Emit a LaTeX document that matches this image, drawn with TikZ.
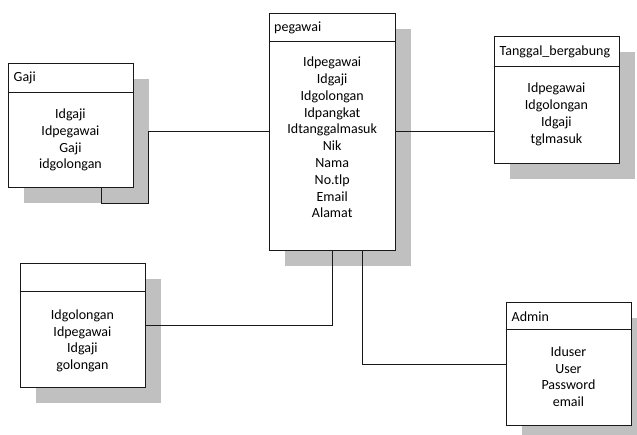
\documentclass[tikz,border=0pt]{standalone}
\usepackage{fontspec}
\setmainfont{Carlito}
\usetikzlibrary{calc,shadows}
\definecolor{shadowgray}{RGB}{192,192,192}
\definecolor{edge}{RGB}{25,25,25}
\tikzset{
  entity/.style={draw=edge, line width=0.9pt, fill=white, rectangle,
    inner sep=0pt, anchor=north west, minimum width=125pt,
    drop shadow={shadow xshift=16pt, shadow yshift=-16pt,
      fill=shadowgray, opacity=1}},
  title/.style={anchor=west, inner sep=0pt, font=\fontsize{14}{16.8}\selectfont},
  fields/.style={align=center, inner sep=0pt, font=\fontsize{14}{16.8}\selectfont},
  link/.style={draw=edge, line width=0.9pt},
}
\begin{document}
\begin{tikzpicture}[x=1pt, y=1pt]
\useasboundingbox (0,0) rectangle (637,-434);

% --- entity boxes ---
\node[entity, minimum height=124pt] (gaji) at (7.5,-62.5) {};
\node[entity, minimum width=125.5pt, minimum height=237pt] (pegawai) at (269,-12.5) {};
\node[entity, minimum height=127pt] (tanggal) at (493.5,-35.5) {};
\node[entity, minimum height=124pt] (golongan) at (19.5,-262.5) {};
\node[entity, minimum height=123pt] (admin) at (505.5,-302) {};

% --- header separators ---
\path ([yshift=-29.5pt]gaji.north west) coordinate (gajiH);
\path ([yshift=-29pt]pegawai.north west) coordinate (pegawaiH);
\path ([yshift=-31pt]tanggal.north west) coordinate (tanggalH);
\path ([yshift=-29pt]golongan.north west) coordinate (golonganH);
\path ([yshift=-27pt]admin.north west) coordinate (adminH);
\draw[link] (gajiH) -- (gajiH -| gaji.east);
\draw[link] (pegawaiH) -- (pegawaiH -| pegawai.east);
\draw[link] (tanggalH) -- (tanggalH -| tanggal.east);
\draw[link] (golonganH) -- (golonganH -| golongan.east);
\draw[link] (adminH) -- (adminH -| admin.east);

% --- titles ---
\node[title] (gajiT) at ($(gaji.north west)!0.5!(gajiH)+(6,-1)$) {Gaji};
\node[title] (pegawaiT) at ($(pegawai.north west)!0.5!(pegawaiH)+(5,-1)$) {pegawai};
\node[title] (tanggalT) at ($(tanggal.north west)!0.5!(tanggalH)+(6,-1)$) {Tanggal\_bergabung};
\node[title] (adminT) at ($(admin.north west)!0.5!(adminH)+(6,-1)$) {Admin};

% --- attribute lists ---
\node[fields] (gajiF) at ($(gaji.north)+(0,-77.5)$)
  {Idgaji\\Idpegawai\\Gaji\\idgolongan};
\node[fields] (pegawaiF) at ($(pegawai.north)+(0,-125)$)
  {Idpegawai\\Idgaji\\Idgolongan\\Idpangkat\\Idtanggalmasuk\\Nik\\Nama\\No.tlp\\Email\\Alamat};
\node[fields] (tanggalF) at ($(tanggal.north)+(0,-78.7)$)
  {Idpegawai\\Idgolongan\\Idgaji\\tglmasuk};
\node[fields] (golonganF) at ($(golongan.north)+(0,-78.3)$)
  {Idgolongan\\Idpegawai\\Idgaji\\golongan};
\node[fields] (adminF) at ($(admin.north)+(0,-74.7)$)
  {Iduser\\User\\Password\\email};

% --- relations ---
\draw[link] ([xshift=31pt]gaji.south) |- ($(gaji.south east)+(15,-16)$) |- (pegawai.west);
\draw[link] (pegawai.east) -- (pegawai.east -| tanggal.west);
\draw[link] (pegawai.south) |- (golongan.east);
\draw[link] ([xshift=30.5pt]pegawai.south) |- (admin.west);
\end{tikzpicture}
\end{document}
